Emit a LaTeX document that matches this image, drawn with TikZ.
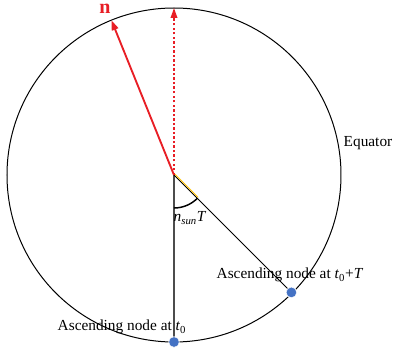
\documentclass[tikz,border=0pt]{standalone}
\usepackage{fontspec}
\setmainfont{Liberation Serif}
\usetikzlibrary{arrows.meta}
\definecolor{vecred}{RGB}{232,30,37}
\definecolor{dotblue}{RGB}{68,114,196}
\definecolor{markyellow}{RGB}{255,192,0}

\begin{document}
\begin{tikzpicture}[x=0.75pt, y=0.75pt,
            orbit/.style={draw, line width=.75pt},
            vec/.style={-{Triangle[length=7.5pt, width=5pt]}, vecred, line width=1.4pt},
            refvec/.style={-{Triangle[length=7.5pt, width=5pt]}, vecred, line width=1.1pt,
                dash pattern=on 1.8pt off 1.6pt},
            radial/.style={line width=.6pt},
            asnode/.style={circle, fill=dotblue, draw=white, line width=.4pt,
                inner sep=0pt, minimum size=8pt},
            lbl/.style={font=\fontsize{11.5}{13}\selectfont, inner sep=0pt},
        ]
            \useasboundingbox (0, 0) rectangle (394, 351);
            \coordinate (O) at (174, 176);
            \coordinate (ntip) at (111.4, 330.8);
            \coordinate (ztip) at (174, 343);
            \coordinate (arcA) at (174, 143);
            \coordinate (arcB) at (197.3, 152.7);
            \draw[orbit] (O) circle (167);
            \draw[radial, draw=black!70, line width=.9pt] (O) -- (174, 9) coordinate (asc0pos);
            \draw[radial] (O) -- (291.4, 58.6) coordinate (ascTpos);
            \draw[markyellow, line width=.6pt] ([shift={(.9,.9)}]O) -- ([shift={(.9,.9)}]arcB);
            \draw[line width=1.1pt] (arcA) arc (-90:-45:33);
            \draw[vec] (O) -- (ntip);
            \draw[refvec] (O) -- (ztip);
            \node[asnode] (asc0) at (asc0pos) {};
            \node[asnode] (ascT) at (ascTpos) {};
            \node[font=\fontsize{15}{15}\selectfont\bfseries, text=vecred, inner sep=0pt]
                (nlabel) at (105, 342) {n};
            \node[lbl] (equator) at (368, 208) {Equator};
            \node[lbl] (angle) at (190, 133)
                {\textit{n}\textsubscript{\textit{sun}}\textit{T}};
            \node[lbl] (ascTlabel) at (290, 76)
                {Ascending node at \textit{t}\textsubscript{0}+\textit{T}};
            \node[lbl] (asc0label) at (122, 24)
                {Ascending node at \textit{t}\textsubscript{0}};
        \end{tikzpicture}
\end{document}
